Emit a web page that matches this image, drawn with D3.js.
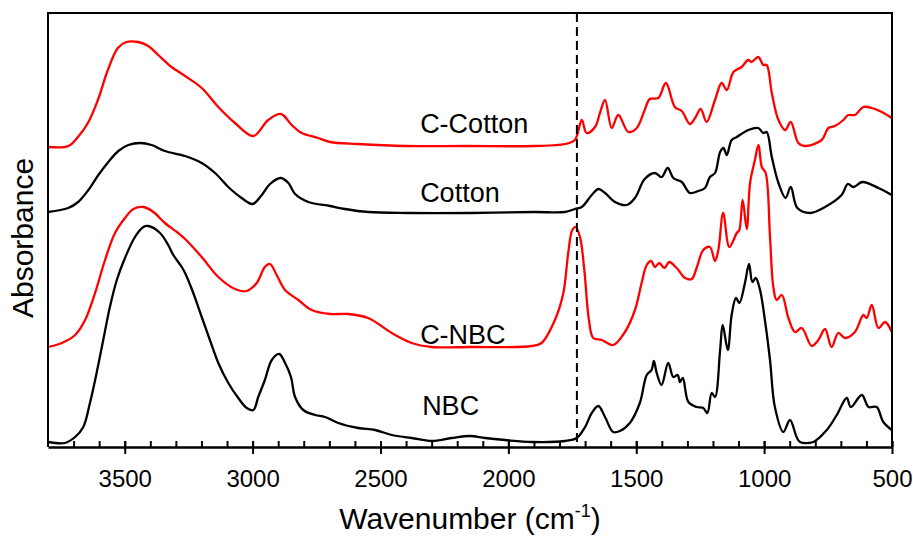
<!DOCTYPE html>
<html>
<head>
<meta charset="utf-8">
<script src="https://cdn.jsdelivr.net/npm/d3@7/dist/d3.min.js"></script>
<style>
  html, body { margin: 0; padding: 0; background: #fff; }
  svg { display: block; }
  text { font-family: Arial, "Liberation Sans", sans-serif; fill: #000; }
</style>
</head>
<body>
<div id="chart"></div>
<script>
// ---------------- DATA (wavenumber cm-1, absorbance a.u., offset stacked) ----------------
const seriesNames = ["C-Cotton", "Cotton", "C-NBC", "NBC"];
const seriesColors = ["#ff0000", "#000000", "#ff0000", "#000000"];

const cCotton = [
  [3800,3.00],[3720,3.01],[3683,3.10],[3644,3.24],[3605,3.47],[3566,3.77],[3527,3.99],
  [3494,4.05],[3447,4.05],[3408,4.01],[3369,3.92],[3317,3.80],[3264,3.71],[3199,3.59],
  [3134,3.40],[3069,3.24],[2997,3.11],[2939,3.27],[2889,3.33],[2847,3.22],[2808,3.14],
  [2743,3.09],[2697,3.05],[2588,3.03],[2400,3.01],[2170,3.01],[1900,3.01],[1779,3.03],
  [1740,3.07],[1713,3.27],[1694,3.14],[1661,3.20],[1642,3.34],[1622,3.47],[1596,3.19],
  [1570,3.32],[1531,3.15],[1498,3.19],[1467,3.37],[1447,3.48],[1414,3.49],[1384,3.64],
  [1349,3.40],[1322,3.36],[1290,3.23],[1270,3.29],[1248,3.38],[1225,3.25],[1192,3.47],
  [1166,3.64],[1146,3.57],[1120,3.75],[1088,3.80],[1062,3.87],[1049,3.85],[1023,3.90],
  [1003,3.82],[990,3.82],[970,3.54],[944,3.27],[918,3.17],[896,3.25],[866,3.04],
  [840,3.01],[775,3.07],[749,3.19],[723,3.21],[690,3.27],[671,3.32],[645,3.32],
  [612,3.40],[579,3.39],[540,3.35],[501,3.29]
];

const cotton = [
  [3800,2.35],[3721,2.39],[3682,2.45],[3642,2.57],[3603,2.72],[3564,2.85],[3525,2.96],
  [3486,3.02],[3440,3.04],[3395,3.02],[3343,2.96],[3264,2.91],[3199,2.84],[3147,2.74],
  [3095,2.60],[3043,2.49],[3000,2.43],[2964,2.52],[2932,2.63],[2889,2.69],[2860,2.64],
  [2834,2.53],[2782,2.45],[2697,2.41],[2639,2.38],[2548,2.35],[2392,2.34],[2150,2.34],
  [1900,2.35],[1779,2.35],[1740,2.38],[1713,2.40],[1674,2.52],[1648,2.58],[1622,2.54],
  [1583,2.45],[1537,2.42],[1505,2.49],[1467,2.68],[1427,2.74],[1401,2.70],[1377,2.79],
  [1355,2.69],[1322,2.65],[1290,2.54],[1257,2.56],[1231,2.59],[1212,2.70],[1192,2.74],
  [1172,2.95],[1159,2.99],[1146,2.92],[1127,3.07],[1107,3.10],[1062,3.17],[1023,3.19],
  [1003,3.14],[990,3.15],[970,2.90],[944,2.64],[916,2.49],[896,2.60],[870,2.39],
  [820,2.34],[762,2.40],[697,2.52],[673,2.63],[651,2.60],[616,2.65],[553,2.59],[501,2.52]
];

const cNBC = [
  [3800,1.00],[3746,1.04],[3694,1.12],[3655,1.27],[3616,1.54],[3577,1.87],[3538,2.14],
  [3499,2.29],[3466,2.38],[3427,2.40],[3388,2.35],[3343,2.24],[3291,2.14],[3264,2.08],
  [3199,1.90],[3134,1.70],[3069,1.58],[3023,1.56],[2984,1.64],[2952,1.80],[2932,1.83],
  [2906,1.72],[2873,1.57],[2821,1.47],[2769,1.37],[2697,1.33],[2626,1.33],[2548,1.29],
  [2456,1.14],[2378,1.04],[2300,1.00],[2150,1.00],[1909,1.01],[1870,1.04],[1818,1.27],
  [1785,1.54],[1766,1.94],[1750,2.17],[1737,2.20],[1720,2.10],[1703,1.77],[1685,1.27],
  [1668,1.09],[1635,1.07],[1590,1.02],[1544,1.15],[1505,1.37],[1479,1.64],[1459,1.82],
  [1442,1.86],[1427,1.80],[1410,1.84],[1390,1.79],[1371,1.85],[1342,1.79],[1309,1.69],
  [1283,1.68],[1264,1.79],[1238,1.97],[1212,2.00],[1192,1.86],[1179,1.97],[1160,2.34],
  [1136,2.00],[1107,2.14],[1097,2.17],[1084,2.47],[1068,2.18],[1055,2.64],[1036,2.87],
  [1022,3.02],[1009,2.80],[994,2.74],[977,2.10],[964,1.60],[951,1.47],[931,1.52],
  [905,1.29],[879,1.15],[853,1.19],[814,1.01],[788,1.07],[762,1.18],[736,1.00],
  [710,1.14],[684,1.09],[645,1.15],[612,1.32],[599,1.29],[579,1.42],[553,1.19],
  [527,1.25],[501,1.15]
];

const nbc = [
  [3800,0.05],[3734,0.04],[3694,0.10],[3662,0.20],[3636,0.44],[3610,0.74],[3584,1.07],
  [3558,1.40],[3531,1.67],[3499,1.89],[3460,2.10],[3427,2.20],[3408,2.21],[3362,2.14],
  [3330,2.02],[3310,1.92],[3277,1.80],[3264,1.74],[3232,1.54],[3199,1.30],[3167,1.07],
  [3134,0.84],[3095,0.64],[3056,0.49],[3023,0.39],[2997,0.37],[2978,0.50],[2952,0.67],
  [2925,0.87],[2896,0.93],[2873,0.84],[2850,0.70],[2834,0.50],[2802,0.37],[2756,0.32],
  [2717,0.30],[2665,0.24],[2587,0.19],[2521,0.17],[2456,0.12],[2378,0.09],[2300,0.06],
  [2222,0.09],[2150,0.11],[2091,0.09],[2013,0.07],[1909,0.05],[1779,0.06],[1733,0.09],
  [1700,0.20],[1674,0.34],[1648,0.41],[1622,0.30],[1590,0.15],[1564,0.16],[1525,0.24],
  [1486,0.44],[1459,0.72],[1440,0.77],[1431,0.86],[1420,0.74],[1401,0.62],[1375,0.84],
  [1355,0.70],[1338,0.72],[1329,0.65],[1318,0.69],[1296,0.45],[1264,0.40],[1238,0.39],
  [1222,0.34],[1205,0.54],[1192,0.50],[1172,0.97],[1162,1.22],[1142,0.97],[1127,1.32],
  [1110,1.49],[1097,1.44],[1075,1.64],[1059,1.83],[1046,1.65],[1033,1.69],[1016,1.57],
  [997,1.27],[977,0.87],[958,0.40],[925,0.15],[899,0.27],[873,0.10],[860,0.05],
  [808,0.05],[755,0.17],[716,0.32],[677,0.49],[661,0.40],[618,0.52],[592,0.40],
  [560,0.40],[534,0.25],[501,0.17]
];

const seriesData = [cCotton, cotton, cNBC, nbc];

const xDomain = [3800, 500];
const yDomain = [0, 4.34];
const majorTicks = [3500, 3000, 2500, 2000, 1500, 1000, 500];
const minorTicks = d3.range(3700, 499, -100);
const markerWavenumber = 1732;
const xTitle = "Wavenumber (cm";
const xTitleSup = "-1";
const yTitle = "Absorbance";

// ---------------- LAYOUT ----------------
const W = 913, H = 536;
const m = { left: 48, right: 21, top: 13, bottom: 89 };
const x0 = m.left, x1 = W - m.right, y0 = H - m.bottom, y1 = m.top;

const svg = d3.select("#chart").append("svg")
  .attr("width", W).attr("height", H);

const x = d3.scaleLinear().domain(xDomain).range([x0, x1]);
const y = d3.scaleLinear().domain(yDomain).range([y0, y1]);

// spectra
const line = d3.line()
  .x(d => x(d[0]))
  .y(d => y(d[1]))
  .curve(d3.curveCatmullRom.alpha(0.5));

const lineOrder = [1, 3, 0, 2];
lineOrder.forEach(i => {
  svg.append("path")
    .datum(seriesData[i])
    .attr("d", line)
    .attr("fill", "none")
    .attr("stroke", seriesColors[i])
    .attr("stroke-width", 2.3)
    .attr("stroke-linejoin", "round");
});

// dashed marker line
svg.append("line")
  .attr("x1", x(markerWavenumber)).attr("x2", x(markerWavenumber))
  .attr("y1", y(yDomain[1])).attr("y2", y(yDomain[0]))
  .attr("stroke", "#000").attr("stroke-width", 2)
  .attr("stroke-dasharray", "9,5");

// frame (top, right, left)
svg.append("path")
  .attr("d", `M${x0},${y0}V${y1}H${x1}V${y0}`)
  .attr("fill", "none").attr("stroke", "#000").attr("stroke-width", 2);

// x axis: inner minor/major ticks
const gInner = svg.append("g").attr("transform", `translate(0,${y0})`)
  .call(d3.axisBottom(x).tickValues(minorTicks.concat(majorTicks)).tickSize(-6).tickFormat(""));
gInner.select(".domain").remove();
gInner.selectAll(".tick line").attr("stroke-width", 2);

// x axis: major ticks outward + labels
const gAxis = svg.append("g").attr("transform", `translate(0,${y0})`)
  .call(d3.axisBottom(x).tickValues(majorTicks).tickSizeInner(7).tickSizeOuter(0).tickPadding(16)
    .tickFormat(d3.format("d")));
gAxis.select(".domain").attr("stroke-width", 2.5);
gAxis.selectAll(".tick line").attr("stroke-width", 2);
gAxis.selectAll(".tick text")
  .style("font-family", "Arial, 'Liberation Sans', sans-serif")
  .attr("font-size", 24).attr("fill", "#000");

// axis titles
const xt = svg.append("text")
  .attr("x", (x0 + x1) / 2).attr("y", 529)
  .attr("text-anchor", "middle").attr("font-size", 30);
xt.append("tspan").text(xTitle);
xt.append("tspan").text(xTitleSup).attr("font-size", 18).attr("dy", -12);
xt.append("tspan").text(")").attr("dy", 12);

svg.append("text")
  .attr("transform", `translate(33,${(y0 + y1) / 2 + 8}) rotate(-90)`)
  .attr("text-anchor", "middle").attr("font-size", 30)
  .text(yTitle);

// series labels
const labelWn = 2345;
const labelAbs = [3.14, 2.45, 1.03, 0.32];
const labelDx = [0, 0, 0, 2];
seriesNames.forEach((name, i) => {
  svg.append("text")
    .attr("x", x(labelWn) + labelDx[i]).attr("y", y(labelAbs[i]))
    .attr("font-size", 27)
    .text(name);
});
</script>
</body>
</html>
